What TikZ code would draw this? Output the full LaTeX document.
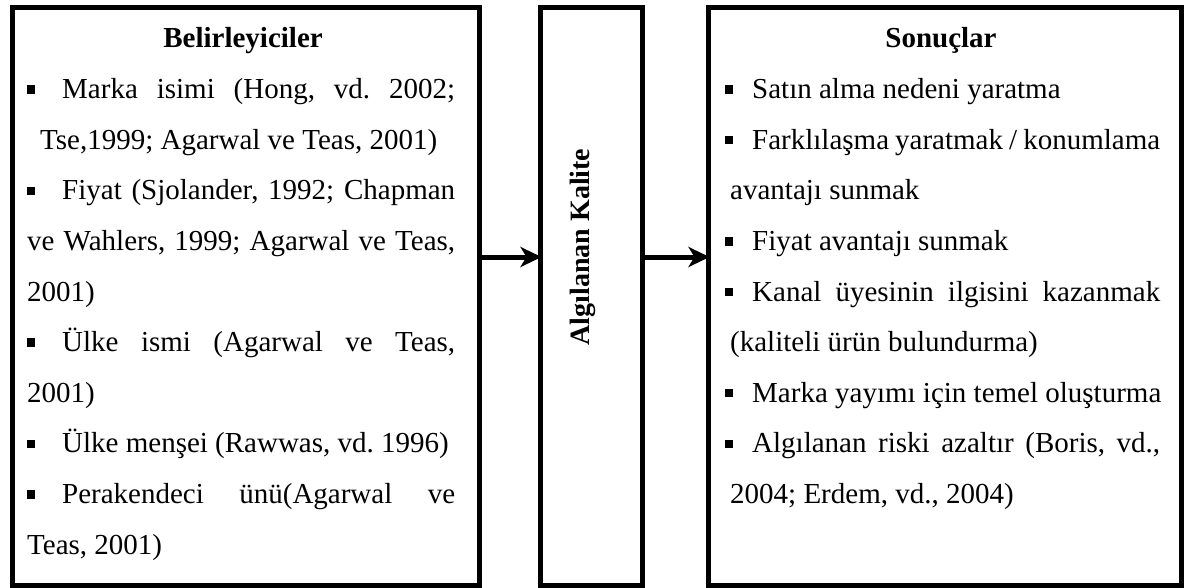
\documentclass[tikz,border=0pt]{standalone}
\usepackage{fontspec}
\setmainfont{Liberation Serif}
\usetikzlibrary{arrows.meta}
% a line spread to a fixed width (justified)
\newcommand\jline[2]{\makebox[#1][s]{#2}}
\frenchspacing
\begin{document}
\begin{tikzpicture}[x=1pt,y=-1pt,
  frame/.style={draw, line width=5pt, rectangle, inner sep=0pt},
  txt/.style={anchor=base west, inner sep=0pt, font=\fontsize{29}{34}\selectfont},
  head/.style={anchor=base, inner sep=0pt, font=\fontsize{29}{34}\selectfont\bfseries},
  bul/.style={fill, rectangle, minimum size=8.5pt, inner sep=0pt},
  flow/.style={line width=5pt, shorten >=-4pt, -{Stealth[length=21pt,width=20pt,inset=6pt]}}]
\useasboundingbox (0,0) rectangle (1185,588);

% the three frames
\node[frame, minimum width=467pt, minimum height=577pt] (L) at (245.5,296.5) {};
\node[frame, minimum width=102pt, minimum height=577pt] (M) at (591,296.5) {};
\node[frame, minimum width=473pt, minimum height=577pt] (R) at (944.5,296.5) {};

% middle label
\node[inner sep=0pt, rotate=90, font=\fontsize{28}{34}\selectfont\bfseries] (mt) at (583,247) {Algılanan Kalite};

% connectors
\coordinate (a1) at (L.east |- 0,257);
\coordinate (a2) at (M.west |- 0,257);
\coordinate (a3) at (M.east |- 0,257);
\coordinate (a4) at (R.west |- 0,257);
\draw[flow] (a1) -- (a2);
\draw[flow] (a3) -- (a4);

% left column
\node[head] (lh) at (243,48) {Belirleyiciler};
\node[bul] (lb1) at (31,89.6) {};
\node[txt] (l1) at (62,98.6) {\jline{393pt}{Marka isimi (Hong, vd. 2002;}};
\node[txt] (l2) at (40,149.2) {Tse,1999; Agarwal ve Teas, 2001)};
\node[bul] (lb3) at (31,190.8) {};
\node[txt] (l3) at (62,199.8) {\jline{393pt}{Fiyat (Sjolander, 1992; Chapman}};
\node[txt] (l4) at (27,250.4) {\jline{428pt}{ve Wahlers, 1999; Agarwal ve Teas,}};
\node[txt] (l5) at (27,301) {2001)};
\node[bul] (lb6) at (31,342.6) {};
\node[txt] (l6) at (62,351.6) {\jline{393pt}{Ülke ismi (Agarwal ve Teas,}};
\node[txt] (l7) at (27,402.2) {2001)};
\node[bul] (lb8) at (31,443.8) {};
\node[txt] (l8) at (62,452.8) {Ülke menşei (Rawwas, vd. 1996)};
\node[bul] (lb9) at (31,494.4) {};
\node[txt] (l9) at (62,503.4) {\jline{393pt}{Perakendeci ünü(Agarwal ve}};
\node[txt] (l10) at (27,554) {Teas, 2001)};

% right column
\node[head] (rh) at (941,48) {Sonuçlar};
\node[bul] (rb1) at (729,89.6) {};
\node[txt] (r1) at (752,98.6) {Satın alma nedeni yaratma};
\node[bul] (rb2) at (729,140.2) {};
\node[txt] (r2) at (752,149.2) {\jline{408pt}{Farklılaşma yaratmak / konumlama}};
\node[txt] (r3) at (730,199.8) {avantajı sunmak};
\node[bul] (rb4) at (729,241.4) {};
\node[txt] (r4) at (752,250.4) {Fiyat avantajı sunmak};
\node[bul] (rb5) at (729,292) {};
\node[txt] (r5) at (752,301) {\jline{408pt}{Kanal üyesinin ilgisini kazanmak}};
\node[txt] (r6) at (730,351.6) {(kaliteli ürün bulundurma)};
\node[bul] (rb7) at (729,393.2) {};
\node[txt] (r7) at (752,402.2) {Marka yayımı için temel oluşturma};
\node[bul] (rb8) at (729,443.8) {};
\node[txt] (r8) at (752,452.8) {\jline{408pt}{Algılanan riski azaltır (Boris, vd.,}};
\node[txt] (r9) at (730,503.4) {2004; Erdem, vd., 2004)};
\end{tikzpicture}
\end{document}
